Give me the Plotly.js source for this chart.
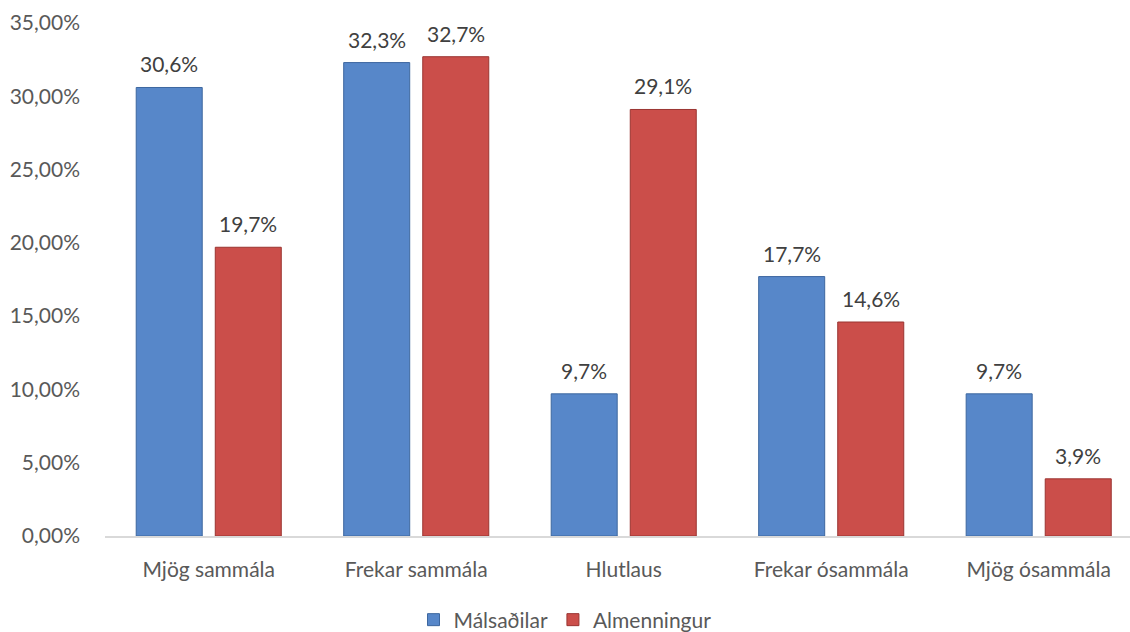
<!DOCTYPE html>
<html>
<head>
<meta charset="utf-8">
<script src="https://cdn.plot.ly/plotly-3.0.1.min.js"></script>
<style>html,body{margin:0;padding:0;background:#fff;}#chart{width:1130px;height:632px;}</style>
</head>
<body>
<div id="chart"></div>
<script>
const categories = ['Mjög sammála', 'Frekar sammála', 'Hlutlaus', 'Frekar ósammála', 'Mjög ósammála'];
const malsadilar = [30.6, 32.3, 9.7, 17.7, 9.7];
const almenningur = [19.7, 32.7, 29.1, 14.6, 3.9];
const seriesNames = ['Málsaðilar', 'Almenningur'];
const yTicks = [0, 5, 10, 15, 20, 25, 30, 35];

const fmt = v => v.toFixed(1).replace('.', ',') + '%';
const tickText = yTicks.map(v => v.toFixed(2).replace('.', ',') + '%');
const font = 'Lato, Noto Sans, sans-serif';
const fs = 21;

const traces = [
  {type: 'bar', name: seriesNames[0], x: categories, y: malsadilar,
   marker: {color: '#5787c9', line: {color: '#3d679f', width: 1}}, hoverinfo: 'skip'},
  {type: 'bar', name: seriesNames[1], x: categories, y: almenningur,
   marker: {color: '#cb4e4a', line: {color: '#9a3431', width: 1}}, hoverinfo: 'skip'}
];

const annotations = [];
[[malsadilar, -39.5], [almenningur, 39.5]].forEach(([vals, dx]) => {
  vals.forEach((v, i) => {
    annotations.push({x: categories[i], y: v, xref: 'x', yref: 'y', text: fmt(v),
      showarrow: false, xshift: dx, yshift: 9, yanchor: 'bottom',
      font: {family: font, size: fs, color: '#404040'}});
  });
});

const layout = {
  width: 1130, height: 632,
  margin: {l: 105, r: 0, t: 23, b: 96, autoexpand: false},
  paper_bgcolor: '#fff', plot_bgcolor: '#fff',
  barmode: 'group', bargap: 0.238, bargroupgap: 0.165,
  font: {family: font, size: fs, color: '#595959'},
  xaxis: {type: 'category', range: [-0.5, 4.44], showgrid: false, zeroline: false,
    showline: true, linecolor: '#d9d9d9', linewidth: 1.5, ticks: '', tickangle: 0,
    automargin: false,
    tickfont: {family: font, size: fs, color: '#595959'}, ticklabelstandoff: 14},
  yaxis: {range: [0, 35], tickvals: yTicks, ticktext: tickText, automargin: false,
    showgrid: false, zeroline: false, showline: false, ticks: '',
    ticklabelstandoff: 24,
    tickfont: {family: font, size: fs, color: '#595959'}},
  showlegend: true,
  legend: {orientation: 'h', xref: 'container', yref: 'container', x: 0.5, xanchor: 'center',
    y: 0.019, yanchor: 'middle', font: {family: font, size: fs, color: '#595959'},
    itemwidth: 30, tracegroupgap: 0},
  annotations: annotations
};

Plotly.newPlot('chart', traces, layout, {staticPlot: true, displayModeBar: false});
</script>
</body>
</html>
